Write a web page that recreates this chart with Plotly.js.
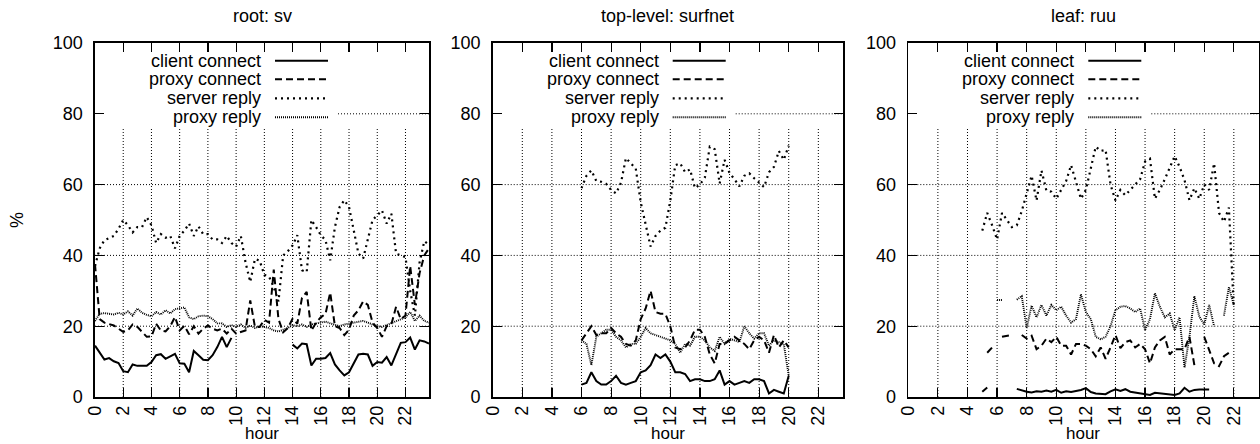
<!DOCTYPE html>
<html>
<head>
<meta charset="utf-8">
<script src="https://cdn.plot.ly/plotly-3.0.1.min.js"></script>
<style>html,body{margin:0;padding:0;background:#fff;}#chart{width:1260px;height:444px;}</style>
</head>
<body>
<div id="chart"></div>
<script>
// ---------------- data (20-minute samples, hour = start + i/3) ----------------
const seriesNames = ['client connect', 'proxy connect', 'server reply', 'proxy reply'];
const panelTitles = ['root: sv', 'top-level: surfnet', 'leaf: ruu'];
const xAxisLabel = 'hour';
const yAxisLabel = '%';
const xTickVals = [0, 2, 4, 6, 8, 10, 12, 14, 16, 18, 20, 22];
const xTickText = ['0', '2', '4', '6', '8', '10', '12', '14', '16', '18', '20', '22'];
const yTickVals = [0, 20, 40, 60, 80, 100];
const yTickText = ['0', '20', '40', '60', '80', '100'];

// root: sv  (start hour 0)
const rootStart = 0;
const rootClient = [14.5, 12.5, 10.6, 11.0, 10.1, 9.6, 7.3, 7.0, 9.2, 8.8, 8.7, 8.8, 9.9, 11.8, 12.1, 10.8, 11.5, 12.2, 9.5, 9.4,
  7.0, 13.0, 11.8, 10.5, 10.4, 11.8, 14.1, 17.0, 14.1, 16.7,
  null, null, null, null, null, null, null, null, null, null, null, null,
  14.8, 13.7, 15.1, 14.9, 8.9, 10.8, 10.8, 11.0, 12.4, 9.2, 7.5, 6.1, 7.0, 9.6, 12.0, 12.2, 12.0, 8.8, 9.9, 9.7,
  11.3, 8.9, 12.2, 15.3, 15.5, 16.8, 13.4, 16.0, 15.7, 15.1];
const rootProxyConn = [37.5, 22.0, 21.0, 20.7, 20.2, 19.3, 18.4, 18.8, 20.5, 19.8, 18.5, 17.0, 17.1, 20.7, 18.8, 18.5, 20.0, 22.6, 18.8, 20.1,
  17.7, 20.0, 17.9, 19.3, 20.2, 19.3, 18.8, 19.3, 17.9, 19.3, 17.9, 18.4, 18.8, 27.3, 19.8, 19.8, 21.8, 21.0, 36.0, 22.0,
  18.3, 19.5, 22.1, 20.7, 28.0, 29.7, 18.8, 21.0, 22.5, 23.5, 29.5, 20.0, 19.5, 17.5, 19.0, 23.0, 24.5, 27.0, 26.0, 21.0,
  19.5, 17.0, 20.0, 20.5, 25.5, 22.0, 23.0, 37.0, 26.0, 35.0, 40.0, 42.0];
const rootServer = [37.0, 42.0, 44.3, 44.8, 45.5, 47.5, 50.0, 48.5, 46.5, 48.0, 48.0, 50.8, 48.5, 43.5, 46.0, 45.0, 45.5, 42.0, 45.5, 47.0,
  49.0, 45.5, 48.2, 46.0, 46.0, 44.5, 44.5, 43.5, 45.5, 43.5, 42.5, 45.5, 38.0, 32.5, 39.0, 38.5, 34.5, 34.0, 31.0, 27.0,
  40.0, 41.2, 42.8, 45.7, 35.8, 35.3, 50.0, 48.0, 45.7, 44.3, 38.6, 48.0, 53.7, 55.6, 53.7, 47.1, 40.5, 39.1, 44.3, 50.0,
  51.3, 52.7, 49.0, 51.8, 40.5, 40.0, 39.5, 30.0, 23.0, 38.0, 44.0, 43.0];
const rootProxyReply = [21.5, 23.5, 23.7, 23.5, 23.3, 23.8, 23.3, 24.2, 23.0, 25.0, 23.8, 23.2, 22.8, 24.0, 23.3, 24.5, 23.6, 24.8, 25.0, 25.3,
  22.5, 22.0, 22.8, 23.0, 22.8, 22.0, 20.8, 20.8, 19.8, 20.3, 19.8, 20.5, 19.5, 20.2, 19.5, 20.0, 19.8, 19.5, 18.8, 18.5,
  19.0, 19.5, 20.3, 20.0, 20.5, 19.8, 20.5, 20.8, 21.0, 21.3, 20.8, 20.5, 20.0, 20.5, 20.8, 21.0, 21.3, 21.5, 21.0, 20.5,
  20.0, 19.8, 20.3, 20.8, 21.5, 22.0, 22.5, 24.0, 21.5, 23.0, 21.5, 21.0];

// top-level: surfnet  (start hour 6)
const topStart = 6;
const topClient = [3.5, 4.0, 7.0, 4.5, 3.5, 3.5, 4.5, 6.0, 4.0, 3.5, 4.0, 4.5, 7.0, 7.5, 9.0, 12.0, 11.0, 12.0, 10.0, 7.0,
  7.0, 6.5, 4.5, 5.0, 5.0, 4.5, 4.5, 5.0, 7.5, 3.5, 4.5, 3.5, 4.0, 4.5, 4.0, 5.0, 5.0, 4.5, 1.0, 2.0, 1.5, 1.0, 6.0];
const topProxyConn = [16.0, 18.0, 20.0, 17.5, 18.0, 18.0, 19.5, 18.0, 17.0, 15.0, 14.5, 16.0, 22.0, 25.0, 30.0, 24.0, 23.5, 23.5, 20.0, 14.0,
  13.5, 14.0, 16.0, 19.0, 19.0, 17.0, 12.0, 9.5, 15.0, 15.0, 16.0, 17.0, 16.0, 15.0, 13.5, 16.0, 17.0, 16.0, 12.5, 17.5, 14.0, 16.0, 14.0];
const topServer = [59.0, 62.5, 64.0, 61.0, 60.8, 60.2, 58.5, 57.5, 60.5, 67.5, 66.0, 64.5, 55.0, 49.0, 42.5, 45.5, 47.0, 47.8, 55.5, 65.5,
  66.0, 63.5, 64.3, 59.0, 60.0, 62.0, 70.7, 70.0, 60.3, 67.0, 63.3, 61.5, 59.5, 62.5, 63.2, 61.8, 60.5, 59.3, 63.5, 65.0, 69.5, 67.0, 71.0];
const topProxyReply = [16.0, 15.0, 9.0, 17.0, 18.0, 19.0, 19.0, 17.0, 16.0, 14.0, 15.0, 15.0, 17.0, 19.5, 18.0, 17.5, 17.0, 16.5, 16.0, 15.0,
  12.5, 15.0, 14.5, 17.0, 17.0, 16.0, 14.0, 13.0, 17.0, 15.0, 16.5, 16.0, 15.5, 20.0, 18.0, 16.5, 18.0, 18.0, 14.5, 16.0, 15.5, 15.0, 6.0];

// leaf: ruu  (start hour 5)
const leafStart = 5;
const leafClient = [1.5, 2.7, null, null, null, null, null, 2.3, 1.8, 1.5, 1.3, 1.6, 1.5, 1.8, 1.5, 2.0, 1.2, 1.6, 1.4, 1.6,
  2.0, 2.5, 1.4, 1.0, 0.9, 0.8, 1.6, 2.2, 1.7, 2.2, 1.5, 1.3, 1.0, 0.9, 0.6, 1.2, 1.0, 0.9, 0.8, 0.6, 1.0, 2.6, 1.5, 2.0, 2.1, 2.2, 2.1];
const leafProxyConn = [null, 12.5, 14.0, null, 17.0, 17.2, 17.5, null, 17.5, 16.5, 17.3, 13.5, 14.5, 16.5, 15.5, 17.0, 14.5, 14.5, 12.0, 15.0,
  15.0, 14.5, 13.5, 11.5, 14.0, 10.8, 14.0, 17.5, 13.8, 15.5, 16.0, 14.0, 15.0, 13.5, 9.5, 14.0, 16.0, 17.0, 12.0, 13.5,
  13.5, 13.5, 17.0, 9.0, null, 17.0, 13.0, 9.5, 8.7, 11.5, 12.5];
const leafServer = [47.0, 52.0, 48.5, 44.5, 52.0, 50.0, 48.0, 48.5, 52.5, 57.5, 62.5, 55.5, 64.0, 58.3, 58.0, 56.0, 58.5, 61.0, 65.5, 61.0,
  56.0, 58.5, 65.0, 70.7, 69.5, 69.8, 60.0, 55.5, 58.5, 57.0, 58.5, 60.0, 61.5, 66.5, 67.3, 56.0, 58.5, 61.5, 64.5, 68.0,
  65.0, 61.3, 55.6, 59.0, 56.0, 60.0, 58.5, 66.0, 52.0, 49.5, 53.5, 25.0];
const leafProxyReply = [null, null, null, 27.4, 27.4, null, null, 27.5, 28.5, 19.5, 25.8, 22.5, 26.0, 23.0, 26.0, 24.5, 25.5, 23.0, 21.0, 22.0,
  29.0, 24.0, 22.0, 17.0, 16.3, 17.0, 20.0, 24.5, 25.5, 25.7, 25.0, 24.0, 25.0, 18.9, 22.0, 29.3, 25.5, 22.5, 23.6, 18.9,
  22.5, 8.3, 17.0, 28.5, 22.7, 20.5, 26.0, 20.0, null, 23.0, 31.0, 26.0];

const xMax = 23.667;

// ---------------- layout constants (pixels) ----------------
const W = 1260, H = 444;
const plotTop = 43, plotBottom = 397;
const panelPx = [[95, 429], [492.7, 843], [908.3, 1258.5]];
const FONT = 'Liberation Sans, Arial, Helvetica, sans-serif';
const FS = 18;
const gridTopValue = 76;          // vertical grid lines stop under the key
const keyRightPx = 243;           // key box width from plot left
const keyTextPx = 168, keyLineStartPx = 180, keyLineEndPx = 233;
const keyRowsPx = [60.7, 79.3, 98.3, 117.3];
const titleRowPx = 16;
const styles = [
  {dash: 'solid', width: 2},
  {dash: '7px,4px', width: 2},
  {dash: '2px,4px', width: 2.2},
  {dash: '1px,1px', width: 1.9}
];

const panelsData = [
  {start: rootStart, series: [rootClient, rootProxyConn, rootServer, rootProxyReply]},
  {start: topStart, series: [topClient, topProxyConn, topServer, topProxyReply]},
  {start: leafStart, series: [leafClient, leafProxyConn, leafServer, leafProxyReply]}
];

const traces = [];
const shapes = [];
const annotations = [];
const layout = {
  width: W, height: H,
  margin: {l: 0, r: 0, t: 0, b: 0, pad: 0},
  paper_bgcolor: '#fff', plot_bgcolor: '#fff',
  showlegend: false,
  font: {family: FONT, size: FS, color: '#000'}
};

panelsData.forEach((p, pi) => {
  const sfx = pi === 0 ? '' : String(pi + 1);
  const xa = 'x' + sfx, ya = 'y' + sfx;
  const [lpx, rpx] = panelPx[pi];
  p.series.forEach((vals, si) => {
    traces.push({
      type: 'scatter', mode: 'lines',
      x: vals.map((_, i) => p.start + i / 3),
      y: vals,
      name: seriesNames[si],
      xaxis: xa, yaxis: ya,
      connectgaps: false,
      line: {color: '#000', width: styles[si].width, dash: styles[si].dash, shape: 'linear'},
      hoverinfo: 'x+y'
    });
  });
  const common = {
    ticks: 'inside', ticklen: 9, tickwidth: 1.2, tickcolor: '#000',
    showline: true, linewidth: 1.6, linecolor: '#000', mirror: 'ticks',
    showgrid: false, zeroline: false, fixedrange: true,
    tickfont: {family: FONT, size: FS, color: '#000'}
  };
  layout['xaxis' + sfx] = Object.assign({}, common, {
    domain: [lpx / W, rpx / W], range: [0, xMax], anchor: ya,
    tickmode: 'array', tickvals: xTickVals, ticktext: xTickText, tickangle: -90,
    ticklabelstandoff: 0
  });
  layout['yaxis' + sfx] = Object.assign({}, common, {
    domain: [1 - plotBottom / H, 1 - plotTop / H], range: [0, 100], anchor: xa,
    tickmode: 'array', tickvals: yTickVals, ticktext: yTickText,
    ticklabelstandoff: 7,
    title: pi === 0 ? {text: yAxisLabel, font: {family: FONT, size: FS}, standoff: 24} : {text: ''}
  });
  // grid: vertical lines
  xTickVals.forEach(v => {
    if (v === 0) return;
    shapes.push({type: 'line', xref: xa, yref: ya, x0: v, x1: v, y0: 0, y1: gridTopValue,
      line: {color: '#000', width: 1, dash: '1px,2px'}, layer: 'below'});
  });
  // grid: horizontal lines
  yTickVals.forEach(v => {
    if (v === 0 || v === 100) return;
    const startPx = v === 80 ? lpx + keyRightPx : lpx;
    shapes.push({type: 'line', xref: 'paper', yref: ya, x0: startPx / W, x1: rpx / W, y0: v, y1: v,
      line: {color: '#000', width: 1, dash: '1px,2px'}, layer: 'below'});
  });
  // key
  seriesNames.forEach((nm, si) => {
    const yp = 1 - keyRowsPx[si] / H;
    annotations.push({text: nm, xref: 'paper', yref: 'paper', x: (lpx + keyTextPx) / W, y: yp,
      xanchor: 'right', yanchor: 'middle', showarrow: false,
      font: {family: FONT, size: FS, color: '#000'}});
    shapes.push({type: 'line', xref: 'paper', yref: 'paper',
      x0: (lpx + keyLineStartPx) / W, x1: (lpx + keyLineEndPx) / W, y0: yp, y1: yp,
      line: {color: '#000', width: styles[si].width, dash: styles[si].dash}});
  });
  // panel title
  annotations.push({text: panelTitles[pi], xref: 'paper', yref: 'paper',
    x: (lpx + rpx) / 2 / W, y: 1 - titleRowPx / H, xanchor: 'center', yanchor: 'middle', showarrow: false,
    font: {family: FONT, size: FS, color: '#000'}});
  // x axis label (sits at the bottom edge, under the rotated tick labels)
  annotations.push({text: xAxisLabel, xref: 'paper', yref: 'paper',
    x: (lpx + rpx) / 2 / W, y: 0, xanchor: 'center', yanchor: 'bottom', showarrow: false,
    borderpad: 0, font: {family: FONT, size: FS - 1, color: '#000'}});
});

layout.shapes = shapes;
layout.annotations = annotations;

Plotly.newPlot('chart', traces, layout, {staticPlot: true, displayModeBar: false});
</script>
</body>
</html>
